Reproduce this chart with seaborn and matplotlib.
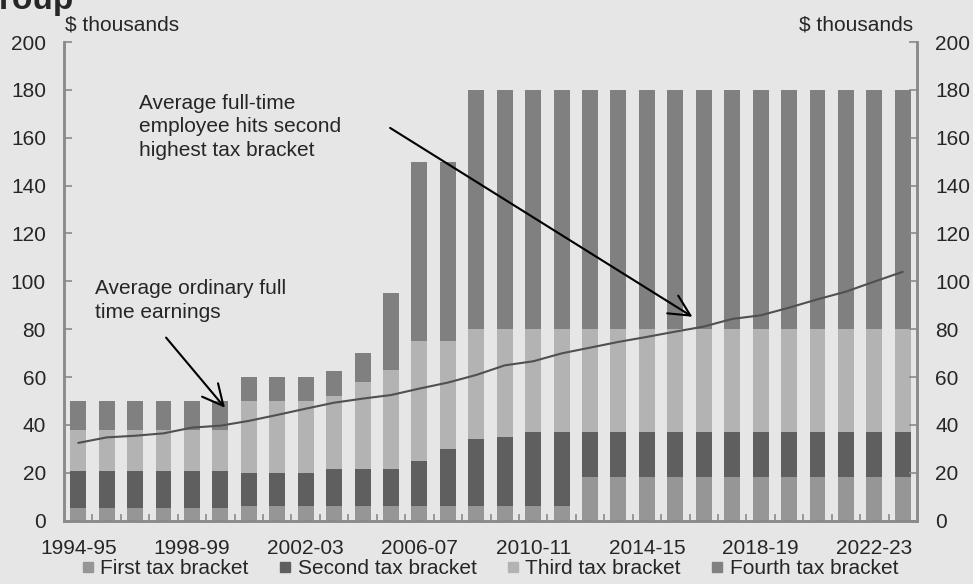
import numpy as np
import pandas as pd
import seaborn as sns
from matplotlib import pyplot as plt
from matplotlib.lines import Line2D

# Financial years on the x axis
years = [
    "1994-95", "1995-96", "1996-97", "1997-98", "1998-99", "1999-00",
    "2000-01", "2001-02", "2002-03", "2003-04", "2004-05", "2005-06",
    "2006-07", "2007-08", "2008-09", "2009-10", "2010-11", "2011-12",
    "2012-13", "2013-14", "2014-15", "2015-16", "2016-17", "2017-18",
    "2018-19", "2019-20", "2020-21", "2021-22", "2022-23", "2023-24",
]

# Upper threshold of each tax bracket ($ thousands)
first_bracket = [5.4, 5.4, 5.4, 5.4, 5.4, 5.4, 6, 6, 6, 6, 6, 6, 6, 6, 6,
                 6, 6, 6, 18.2, 18.2, 18.2, 18.2, 18.2, 18.2, 18.2, 18.2,
                 18.2, 18.2, 18.2, 18.2]
second_bracket = [20.7, 20.7, 20.7, 20.7, 20.7, 20.7, 20, 20, 20, 21.6, 21.6,
                  21.6, 25, 30, 34, 35, 37, 37, 37, 37, 37, 37, 37, 37, 37,
                  37, 37, 37, 37, 37]
third_bracket = [38, 38, 38, 38, 38, 38, 50, 50, 50, 52, 58, 63, 75, 75, 80,
                 80, 80, 80, 80, 80, 80, 80, 80, 80, 80, 80, 80, 80, 80, 80]
fourth_bracket = [50, 50, 50, 50, 50, 50, 60, 60, 60, 62.5, 70, 95, 150, 150,
                  180, 180, 180, 180, 180, 180, 180, 180, 180, 180, 180, 180,
                  180, 180, 180, 180]

# Average ordinary full time earnings ($ thousands)
earnings = [32.5, 34.8, 35.5, 36.5, 38.9, 39.7, 41.7, 44.2, 46.8, 49.3, 51.0,
            52.5, 55.2, 57.7, 60.9, 64.9, 66.6, 69.9, 72.3, 74.7, 76.8, 79.0,
            81.1, 84.3, 85.8, 89.0, 92.5, 95.7, 99.9, 104.0]

legend_labels = ["First tax bracket", "Second tax bracket",
                 "Third tax bracket", "Fourth tax bracket"]

df = pd.DataFrame({
    "year": years,
    "first": first_bracket,
    "second": second_bracket,
    "third": third_bracket,
    "fourth": fourth_bracket,
})

bg = "#e6e6e6"
spine_col = "#8a8a8a"
colors = {"first": "#969696", "second": "#5f5f5f",
          "third": "#b3b3b3", "fourth": "#808080"}

sns.set_theme(style="white")
plt.rcParams["font.family"] = ["Liberation Sans", "DejaVu Sans"]
plt.rcParams["font.size"] = 15

fig = plt.figure(figsize=(9.73, 5.84), dpi=100)
fig.patch.set_facecolor(bg)
ax = fig.add_axes([64 / 973, (584 - 520.7) / 584, 853 / 973, 478.7 / 584])
ax.set_facecolor(bg)

# thresholds are cumulative, so draw the tallest first and paint over it
for col in ["fourth", "third", "second", "first"]:
    sns.barplot(data=df, x="year", y=col, color=colors[col], saturation=1,
                width=0.56, errorbar=None, linewidth=0, ax=ax)

sns.lineplot(x=np.arange(len(years)), y=earnings, color="#505050",
             linewidth=1.5, ax=ax)

ax.set_xlim(-0.5, len(years) - 0.5)
ax.set_ylim(0, 200)
ax.set_xlabel("")
ax.set_ylabel("")
ax.set_xticks(range(0, len(years), 4), [years[i] for i in range(0, len(years), 4)])
ax.set_xticks(np.arange(0.5, len(years) - 1, 1), minor=True)
ax.tick_params(axis="x", which="major", length=0, pad=13, labelsize=15)
ax.tick_params(axis="x", which="minor", direction="in", length=5,
               width=1.2, color=spine_col, bottom=True)
ax.set_yticks(range(0, 201, 20))
ax.tick_params(axis="y", direction="in", length=6, width=1.2,
               color=spine_col, pad=13, labelsize=15, left=True)

ax2 = ax.twinx()
ax2.set_ylim(0, 200)
ax2.set_yticks(range(0, 201, 20))
ax2.tick_params(axis="y", direction="in", length=6, width=1.2,
                color=spine_col, pad=13, labelsize=15, right=True)

for a in [ax, ax2]:
    a.spines["top"].set_visible(False)
    for s in ["left", "right", "bottom"]:
        a.spines[s].set_color(spine_col)
        a.spines[s].set_linewidth(1.8)
    a.grid(False)

# annotations
ax.text(0.59, 100.8, "Average ordinary full\ntime earnings", ha="left",
        va="top", fontsize=15, linespacing=1.3)
ax.annotate("", xy=(5.16, 47.2), xytext=(3.09, 76.5),
            arrowprops=dict(arrowstyle="->,head_length=1.0,head_width=0.5",
                            color="black", lw=1.5, shrinkA=0, shrinkB=0))
ax.text(2.14, 178.3, "Average full-time\nemployee hits second\nhighest tax bracket",
        ha="left", va="top", fontsize=15, linespacing=1.3)
ax.annotate("", xy=(21.6, 85.2), xytext=(10.97, 164.1),
            arrowprops=dict(arrowstyle="->,head_length=1.0,head_width=0.5",
                            color="black", lw=1.5, shrinkA=0, shrinkB=0))

# legend
handles = [Line2D([], [], marker="s", linestyle="none", markersize=7,
                  color=colors[c]) for c in ["first", "second", "third", "fourth"]]
ax.legend(handles, legend_labels, loc="center", bbox_to_anchor=(0.5, -0.1),
          ncol=4, frameon=False, fontsize=15, handlelength=0.5,
          handletextpad=0.35, columnspacing=1.5, borderaxespad=0)

fig.text(65 / 973, 1 - 25 / 584, "$ thousands", ha="left", va="center", fontsize=15)
fig.text(913 / 973, 1 - 25 / 584, "$ thousands", ha="right", va="center", fontsize=15)
fig.text(-0.027, 0.985, "Group", ha="left", va="baseline", fontsize=24,
         fontweight="bold")

fig.savefig("out.png", dpi=100, facecolor=bg)
